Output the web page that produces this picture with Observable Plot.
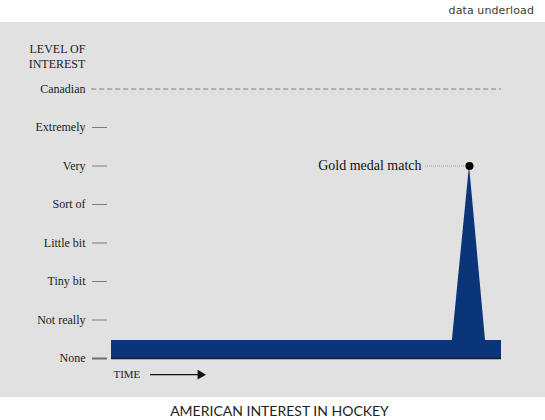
<!DOCTYPE html>
<html>
<head>
<meta charset="utf-8">
<script src="https://cdn.jsdelivr.net/npm/d3@7"></script>
<script src="https://cdn.jsdelivr.net/npm/@observablehq/plot@0.6"></script>
<style>
  body { margin: 0; background: #fff; width: 545px; }
  #brand { height: 22px; line-height: 22px; text-align: right; padding-right: 11px; font-family: "DejaVu Sans", sans-serif; font-size: 11px; color: #3a3a3a; letter-spacing: 0.1px; }
  #caption { text-align: center; font-family: Lato, sans-serif; font-size: 14px; color: #222; letter-spacing: 0px; margin-top: 5px; padding-left: 14px; }
  svg { display: block; }
  #chart svg, #chart svg text { font-family: "Liberation Serif", "DejaVu Serif", serif !important; }
</style>
</head>
<body>
<div id="brand">data underload</div>
<div id="chart"></div>
<div id="caption">AMERICAN INTEREST IN HOCKEY</div>
<script>
// Interest levels (y axis categories, index = level)
const levels = ["None", "Not really", "Tiny bit", "Little bit", "Sort of", "Very", "Extremely", "Canadian"];
// Time (0–100) and interest level
const time = [0, 87.4, 91.8, 95.9, 100];
const interest = [0.47, 0.47, 5, 0.47, 0.47];
// Annotation
const peakLabel = "Gold medal match";
const peakTime = 91.8;
const peakLevel = 5;
const leaderStart = 80.5;
const labelEnd = 79.5;
// Time arrow
const timeLabel = "TIME";
const timeLabelAt = 0.5;
const arrowFrom = 10;
const arrowTo = 23.3;
const arrowLevel = -0.42;
// Axis title
const axisTitle = "LEVEL OF\nINTEREST";
const canadianStart = -5.1;

const data = time.map((t, i) => ({t, v: interest[i]}));

const plot = Plot.plot({
  width: 545,
  height: 375,
  marginLeft: 107,
  marginRight: 44,
  marginTop: 0,
  marginBottom: 0,
  style: {background: "#e1e1e1", fontSize: "12px", color: "#222"},
  x: {domain: [0, 100], range: [111, 501], axis: null},
  y: {domain: [0, 7], range: [336, 66.5], axis: null},
  marks: [
    // axis labels
    Plot.axisY({ticks: d3.range(levels.length), tickFormat: i => levels[i], tickSize: 0, tickPadding: 22, fontSize: 12, fill: "#222", label: null}),
    // tick marks
    Plot.axisY({ticks: d3.range(1, levels.length - 1), tickFormat: () => "", tickSize: 15, stroke: "#7a7a7a", strokeWidth: 1, label: null}),
    Plot.axisY({ticks: [0], tickFormat: () => "", tickSize: 15, stroke: "#6e6e6e", strokeWidth: 2, label: null}),
    // Canadian dashed line
    Plot.ruleY([levels.length - 1], {x1: canadianStart, x2: 100, stroke: "#808080", strokeWidth: 1, strokeDasharray: "5,3"}),
    // interest area
    Plot.areaY(data, {x: "t", y: "v", fill: "#0a3578"}),
    Plot.ruleY([0], {x1: 0, x2: 100, stroke: "#1a1a2a", strokeWidth: 1.5}),
    // annotation
    Plot.ruleY([peakLevel], {x1: leaderStart, x2: peakTime, stroke: "#999", strokeWidth: 1, strokeDasharray: "1,1"}),
    Plot.dot([{t: peakTime, v: peakLevel}], {x: "t", y: "v", r: 4, fill: "#000"}),
    Plot.text([peakLabel], {x: labelEnd, y: peakLevel, text: d => d, textAnchor: "end", fontSize: 14, fill: "#111"}),
    // time arrow
    Plot.text([timeLabel], {x: timeLabelAt, y: arrowLevel, text: d => d, textAnchor: "start", fontSize: 11, fill: "#222"}),
    Plot.ruleY([arrowLevel], {x1: arrowFrom, x2: arrowTo - 1, stroke: "#111", strokeWidth: 1.2}),
    Plot.dot([{t: arrowTo, v: arrowLevel}], {x: "t", y: "v", symbol: "triangle", rotate: 90, r: 3.6, fill: "#111", stroke: null, dx: -2}),
    // axis title
    Plot.text([axisTitle], {x: canadianStart - 1.6, y: 7.87, text: d => d, textAnchor: "end", lineHeight: 1.25, fontSize: 12, fill: "#222"})
  ]
});
document.getElementById("chart").append(plot);
</script>
</body>
</html>
